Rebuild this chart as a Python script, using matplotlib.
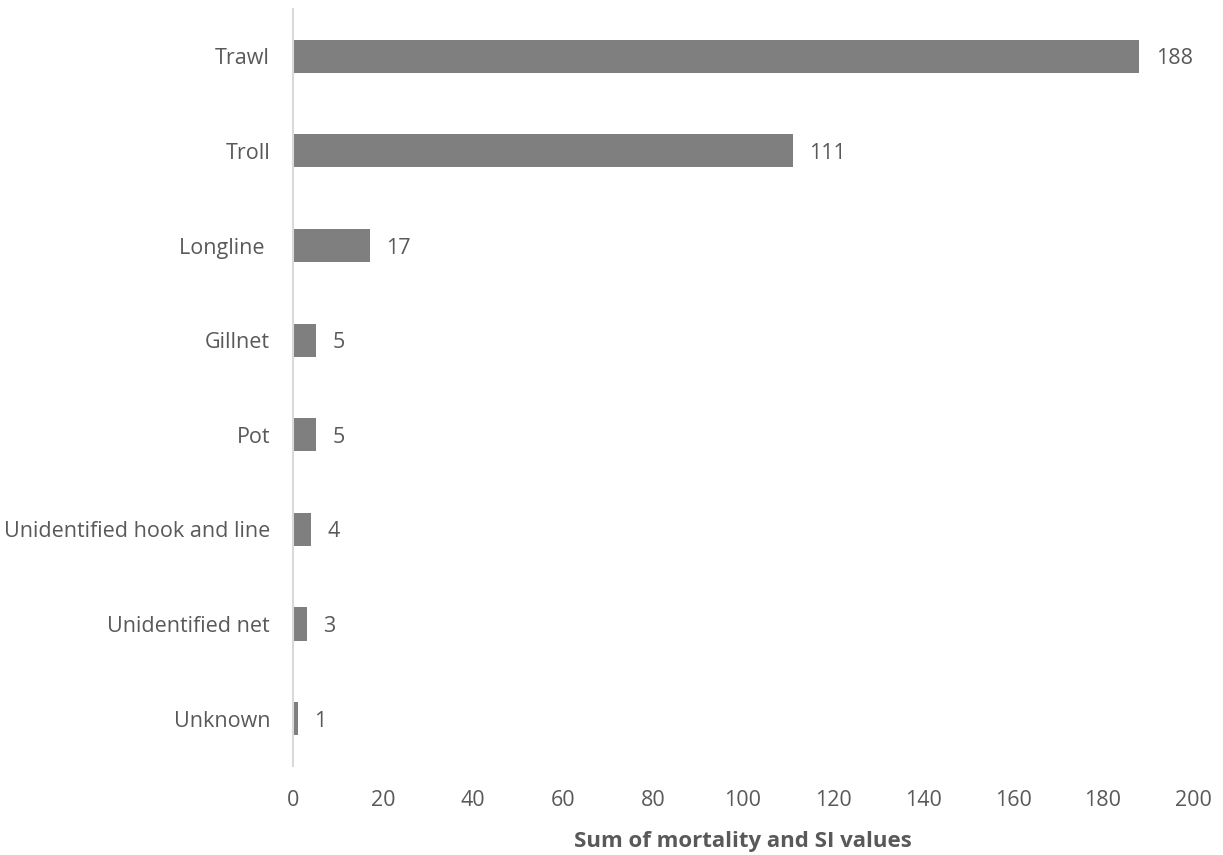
import matplotlib.pyplot as plt

plt.rcParams['font.family'] = ['Open Sans', 'DejaVu Sans']

gear = ['Trawl', 'Troll', 'Longline ', 'Gillnet', 'Pot',
        'Unidentified hook and line', 'Unidentified net', 'Unknown']
values = [188, 111, 17, 5, 5, 4, 3, 1]
xticks = [0, 20, 40, 60, 80, 100, 120, 140, 160, 180, 200]

text_color = '#595959'

fig = plt.figure(figsize=(12.23, 8.55), dpi=100)
ax = fig.add_axes([0.2396, 0.1041, 0.7359, 0.8854])

pos = list(range(len(gear)))
ax.barh(pos, values, height=0.35, color='#7f7f7f')
for p, v in zip(pos, values):
    ax.annotate(str(v), (v, p), xytext=(12, 0), textcoords='offset points',
                ha='left', va='center_baseline', fontsize=15.5, color=text_color)

ax.set_ylim(len(gear) - 0.5, -0.5)
ax.set_xlim(0, 200)
ax.set_yticks(pos)
ax.set_yticklabels(gear)
ax.set_xticks(xticks)
ax.tick_params(axis='both', length=0, labelsize=15.5, labelcolor=text_color)
ax.tick_params(axis='y', pad=16.5)
ax.tick_params(axis='x', pad=17)

for s in ['top', 'right', 'bottom']:
    ax.spines[s].set_visible(False)
ax.spines['left'].set_color('#d9d9d9')
ax.spines['left'].set_linewidth(1.5)

ax.set_xlabel('Sum of mortality and SI values', fontsize=16, fontweight='bold',
              color=text_color, labelpad=15)

plt.savefig('out.png', dpi=100)
